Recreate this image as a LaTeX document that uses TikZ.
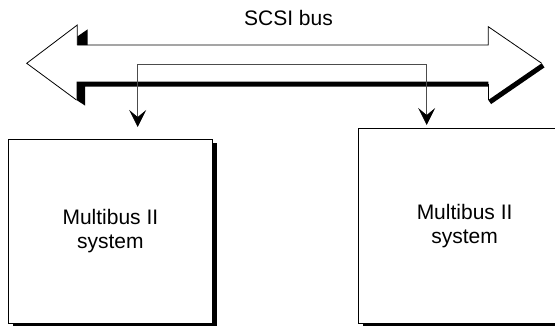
\documentclass[tikz,border=0pt]{standalone}
\usepackage{fontspec}
\setmainfont{Liberation Sans}
\usetikzlibrary{arrows.meta,shadows}
\begin{document}
\begin{tikzpicture}[x=1pt,y=-1pt,
  thinline/.style={line width=0.8pt, black},
  shade/.style={fill=black, draw=none},
  conn/.style={line width=0.8pt, draw=black!70, -{Stealth[length=17pt,width=17pt,inset=7pt,color=black]}},
  sysbox/.style={draw=black, line width=0.8pt, fill=white, align=center, inner sep=0pt,
    font=\fontsize{21}{23.5}\selectfont,
    general shadow={shadow xshift=4.5pt, shadow yshift=-3.5pt, fill=black}},
  lbl/.style={font=\fontsize{21}{23.5}\selectfont, inner sep=0pt}]
\useasboundingbox (0,0) rectangle (555,325);
\fill[white] (0,0) rectangle (555,325);
% double arrow (SCSI bus) geometry
\coordinate (A) at (77.3,25);
\coordinate (T) at (26.7,63.3);
\coordinate (B) at (76.5,100);
\coordinate (C) at (488.3,26.7);
\coordinate (U) at (541.7,63.3);
\coordinate (D) at (488.3,100);
% shadow pieces
\fill[shade] (77.3,45) -- (77.3,36.5) -- (87.7,29.3) -- (87.7,45) -- cycle;
\fill[shade] (76.5,81.7) -- (488.3,81.7) -- (488.3,86.7) -- (85,86.7) -- (85,105.5) -- (76.5,100) -- cycle;
\fill[shade] (D) -- (U) -- (544.5,67.4) -- (491.1,104.1) -- cycle;
% outline
\draw[thinline] (77.3,45) -- (A) -- (T) -- (B);
\draw[thinline] (77.3,45) -- (488.3,45) -- (C) -- (U);
\draw[thinline] (488.3,84) -- (D);
\node[lbl, anchor=base] (bus) at (288.5,25) {SCSI bus};
% systems
\node[sysbox, anchor=north west, minimum width=203.4pt, minimum height=184pt] (s1) at (8.3,138.7) {Multibus II\\system};
\node[sysbox, anchor=north west, minimum width=213pt, minimum height=194.4pt] (s2) at (357.7,128.3) {Multibus II\\system};
% connectors
\coordinate (jl) at (137.7,64.3);
\coordinate (jr) at (426.7,64.3);
\coordinate (tl) at (137.7,127);
\coordinate (tr) at (426.7,125);
\draw[conn] (jr) -- (jl) -- (tl);
\draw[conn] (jr) -- (tr);
\end{tikzpicture}
\end{document}
